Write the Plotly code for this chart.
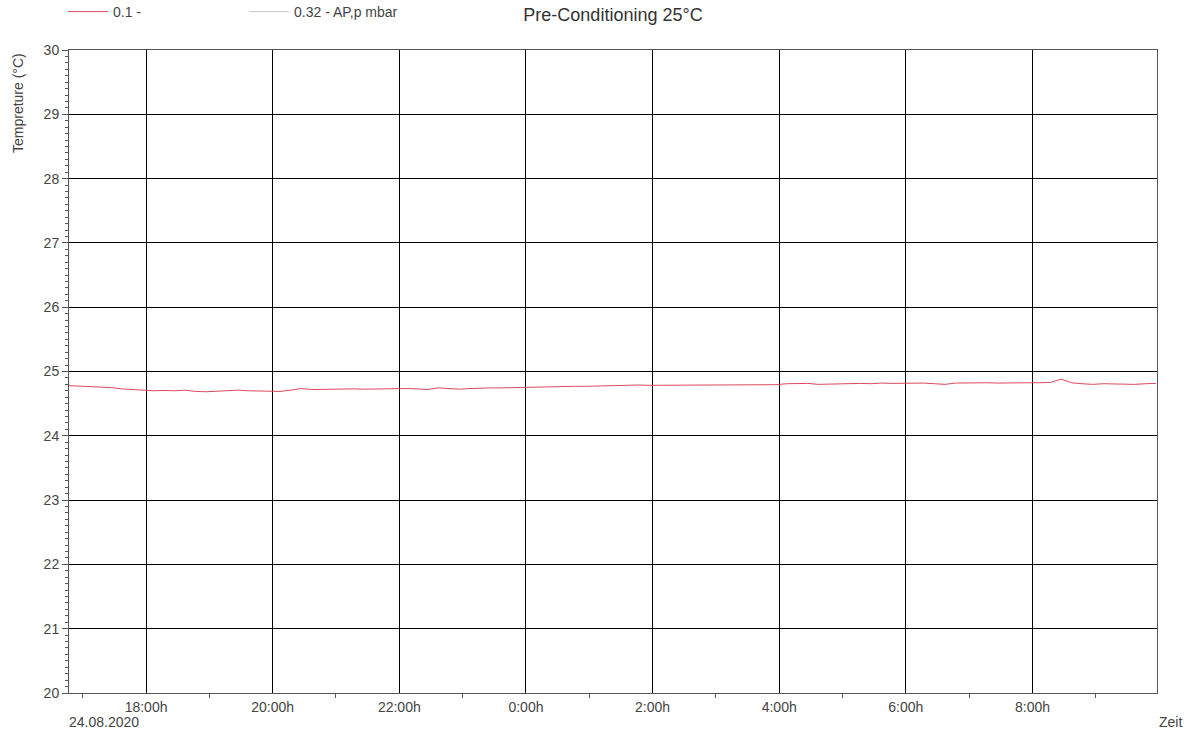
import pandas as pd
import plotly.graph_objects as go

# Logger samples: one reading every 10 minutes starting 24.08.2020 16:47
start_time = "2020-08-24 16:47"
sample_minutes = 10
temperature = [
    24.78, 24.775, 24.77, 24.76, 24.75, 24.73, 24.72, 24.71, 24.70, 24.705,
    24.70, 24.71, 24.69, 24.685, 24.69, 24.70, 24.71, 24.70, 24.70, 24.695,
    24.69, 24.71, 24.735, 24.72, 24.725, 24.72, 24.73, 24.73, 24.725, 24.73,
    24.735, 24.735, 24.735, 24.73, 24.72, 24.745, 24.74, 24.725, 24.735, 24.745,
    24.745, 24.745, 24.75, 24.755, 24.76, 24.76, 24.765, 24.765, 24.77, 24.77,
    24.775, 24.775, 24.78, 24.785, 24.79, 24.785, 24.785, 24.79, 24.79, 24.795,
    24.79, 24.795, 24.79, 24.795, 24.795, 24.79, 24.795, 24.795, 24.81, 24.81,
    24.815, 24.80, 24.805, 24.805, 24.81, 24.815, 24.81, 24.82, 24.815, 24.82,
    24.815, 24.82, 24.81, 24.80, 24.82, 24.825, 24.82, 24.825, 24.82, 24.825,
    24.82, 24.825, 24.825, 24.83, 24.88, 24.825, 24.81, 24.80, 24.81, 24.805,
    24.81, 24.80, 24.81, 24.815,
]
times = pd.date_range(start_time, periods=len(temperature), freq=f"{sample_minutes}min")

x_range = ["2020-08-24 16:47", "2020-08-25 09:58"]
y_range = [20, 30]
half_ticks = [v + 0.5 for v in range(20, 30)]

series_names = ["0.1 -", "0.32 - AP,p mbar"]
series_colors = ["#db4a5f", "#c8c8c8"]

FONT = "Liberation Sans, Arial, sans-serif"
TXT = "#444444"
TICK = "#555555"

fig = go.Figure()
fig.add_trace(go.Scatter(
    x=times, y=temperature, mode="lines", name=series_names[0],
    line=dict(color=series_colors[0], width=1),
))
# pressure channel is listed in the legend but lies outside this scale
fig.add_trace(go.Scatter(
    x=[None], y=[None], mode="lines", name=series_names[1],
    line=dict(color=series_colors[1], width=1),
))

fig.update_layout(
    width=1194, height=733,
    margin=dict(l=69, r=37, t=50, b=40, autoexpand=False),
    paper_bgcolor="white", plot_bgcolor="white",
    font=dict(family=FONT, size=14, color=TXT),
    title=dict(text="Pre-Conditioning 25°C", x=613 / 1194, xanchor="center",
               y=1 - 15 / 733, yanchor="middle",
               font=dict(size=18, color="#333333", family=FONT)),
    legend=dict(orientation="h", x=-6 / 1088, xanchor="left",
                y=1 + 38 / 643, yanchor="middle",
                entrywidth=126, entrywidthmode="pixels", itemwidth=40,
                font=dict(size=14, color=TXT), bgcolor="rgba(0,0,0,0)"),
    xaxis=dict(
        type="date", range=x_range,
        dtick=2 * 3600 * 1000, tick0="2020-08-24 00:00",
        tickformat="%-H:%Mh", ticks="outside", ticklen=0,
        ticklabelstandoff=1,
        showgrid=True, gridcolor="#000000", gridwidth=1,
        showline=True, linecolor=TICK, linewidth=1, mirror=True,
        zeroline=False,
        minor=dict(dtick=3600 * 1000, ticks="outside", ticklen=4,
                   tickcolor=TICK, showgrid=False),
        tickfont=dict(size=14, color=TXT),
    ),
    yaxis=dict(
        range=y_range, dtick=1, ticks="outside", ticklen=6, tickcolor=TICK,
        showgrid=True, gridcolor="#000000", gridwidth=1,
        showline=True, linecolor=TICK, linewidth=1, mirror=True,
        zeroline=False,
        minor=dict(dtick=0.1, ticks="outside", ticklen=3.5,
                   tickcolor=TICK, showgrid=False),
        tickfont=dict(size=14, color=TXT),
    ),
    yaxis2=dict(
        range=y_range, overlaying="y", side="left",
        tickmode="array", tickvals=half_ticks, showticklabels=False,
        ticks="outside", ticklen=6, tickcolor=TICK,
        showgrid=False, zeroline=False, showline=False,
    ),
    annotations=[
        dict(text="Tempreture (°C)", textangle=-90, xref="paper", yref="paper",
             x=0, xshift=-51, xanchor="center", y=(693 - 103) / 643,
             yanchor="middle", showarrow=False,
             font=dict(size=14, color=TXT)),
        dict(text="24.08.2020", xref="paper", yref="paper", x=0, xshift=35,
             xanchor="center", y=0, yshift=-29, yanchor="middle",
             showarrow=False, font=dict(size=14, color=TXT)),
        dict(text="Zeit", xref="paper", yref="paper", x=1, xshift=13,
             xanchor="center", y=0, yshift=-29, yanchor="middle",
             showarrow=False, font=dict(size=14, color=TXT)),
    ],
    showlegend=True,
)

fig.write_html("out.html")
